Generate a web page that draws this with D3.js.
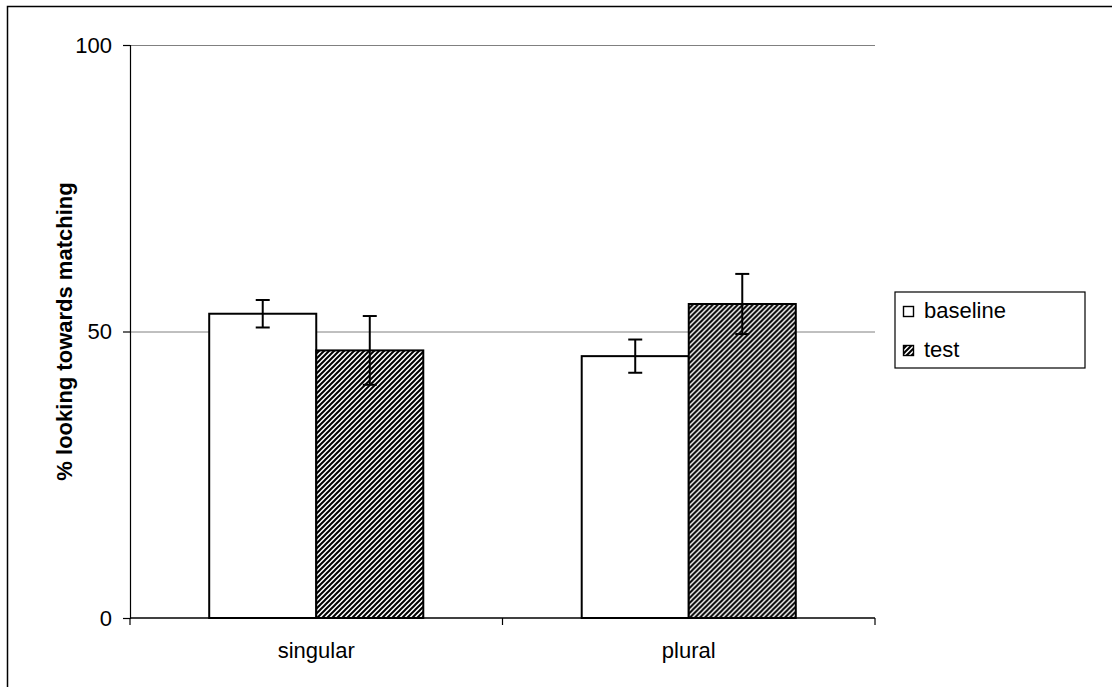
<!DOCTYPE html>
<html>
<head>
<meta charset="utf-8">
<script src="https://cdn.jsdelivr.net/npm/d3@7"></script>
<style>
  body { margin: 0; background: #fff; }
  svg { display: block; }
</style>
</head>
<body>
<div id="canvas"></div>
<script>
/* global d3 */

const categories = ['singular', 'plural']
const seriesNames = ['baseline', 'test']
const baselineValues = [53.1, 45.7]
const baselineErrors = [2.4, 2.9]
const testValues = [46.7, 54.8]
const testErrors = [6.0, 5.25]
const yTicks = [0, 50, 100]

var width = 1112, height = 687
var plot = {left: 130, right: 875, top: 45, bottom: 618}
var FONT = 'Liberation Sans, Arial, sans-serif'

var svg = d3.select('#canvas')
  .append('svg')
  .attr('width', width)
  .attr('height', height)
  .style('font-family', FONT)

// hatch for the test series
var defs = svg.append('defs')
var pat = defs.append('pattern')
  .attr('id', 'hatch')
  .attr('patternUnits', 'userSpaceOnUse')
  .attr('width', 5)
  .attr('height', 5)
pat.append('rect').attr('width', 5).attr('height', 5).attr('fill', '#fff')
pat.append('path')
  .attr('d', 'M-1,1 l2,-2 M0,5 l5,-5 M4,6 l2,-2')
  .attr('stroke', '#000')
  .attr('stroke-width', 2)

// outer frame (only top and left edges are in the picture)
svg.append('rect')
  .attr('x', 7.5).attr('y', 6.5)
  .attr('width', 1200).attr('height', 800)
  .attr('fill', 'none')
  .attr('stroke', '#000')
  .attr('stroke-width', 1.5)

const data = categories.map((c, i) => ({
  cat: c,
  bars: [
    {name: 'baseline', value: baselineValues[i], err: baselineErrors[i]},
    {name: 'test', value: testValues[i], err: testErrors[i]}
  ]
}))

const x0 = d3.scaleBand()
  .domain(categories)
  .range([plot.left, plot.right])

const x1 = d3.scaleBand()
  .domain(seriesNames)
  .range([0, x0.bandwidth()])
  .paddingOuter(0.74)

const y = d3.scaleLinear()
  .domain([0, 100])
  .range([plot.bottom, plot.top])

// gridlines
svg.append('g')
  .selectAll('line')
  .data(yTicks.filter(t => t > 0))
  .enter()
  .append('line')
  .attr('x1', plot.left).attr('x2', plot.right)
  .attr('y1', d => y(d) + 0.5).attr('y2', d => y(d) + 0.5)
  .attr('stroke', '#808080')
  .attr('stroke-width', 1)

// bars
const groups = svg.selectAll('.grp')
  .data(data)
  .enter()
  .append('g')
  .attr('transform', d => `translate(${x0(d.cat)},0)`)

groups.selectAll('rect')
  .data(d => d.bars)
  .enter()
  .append('rect')
  .attr('x', d => x1(d.name))
  .attr('y', d => y(d.value))
  .attr('width', x1.bandwidth())
  .attr('height', d => y(0) - y(d.value))
  .attr('fill', d => d.name === 'test' ? 'url(#hatch)' : '#fff')
  .attr('stroke', '#000')
  .attr('stroke-width', 2)

// error bars
const eb = groups.selectAll('.err')
  .data(d => d.bars)
  .enter()
  .append('g')
  .attr('stroke', '#000')
  .attr('stroke-width', 2)
eb.append('line')
  .attr('x1', d => x1(d.name) + x1.bandwidth() / 2)
  .attr('x2', d => x1(d.name) + x1.bandwidth() / 2)
  .attr('y1', d => y(d.value + d.err))
  .attr('y2', d => y(d.value - d.err))
eb.selectAll('.cap')
  .data(d => [d.value + d.err, d.value - d.err].map(v => ({v: v, name: d.name})))
  .enter()
  .append('line')
  .attr('x1', d => x1(d.name) + x1.bandwidth() / 2 - 7)
  .attr('x2', d => x1(d.name) + x1.bandwidth() / 2 + 7)
  .attr('y1', d => y(d.v))
  .attr('y2', d => y(d.v))

// axes
const yAxis = svg.append('g')
  .attr('transform', `translate(${plot.left},0)`)
  .call(d3.axisLeft(y).tickValues(yTicks).tickSize(7).tickPadding(11))
yAxis.select('.domain').attr('stroke', '#000').attr('stroke-width', 1.2)
yAxis.selectAll('.tick line').attr('stroke', '#000').attr('stroke-width', 1.2)
yAxis.selectAll('text').attr('font-size', '22px').attr('fill', '#000')
  .attr('font-family', FONT)

const xAxis = svg.append('g')
  .attr('transform', `translate(0,${plot.bottom})`)
xAxis.append('line')
  .attr('x1', plot.left).attr('x2', plot.right)
  .attr('stroke', '#000').attr('stroke-width', 1.5)
xAxis.selectAll('.xt')
  .data([plot.left, ...categories.map(c => x0(c) + x0.bandwidth())])
  .enter()
  .append('line')
  .attr('x1', d => d).attr('x2', d => d)
  .attr('y1', 0).attr('y2', 7)
  .attr('stroke', '#000').attr('stroke-width', 1.2)
xAxis.selectAll('text')
  .data(categories)
  .enter()
  .append('text')
  .attr('x', d => x0(d) + x0.bandwidth() / 2)
  .attr('y', 40)
  .attr('text-anchor', 'middle')
  .attr('font-size', '22px')
  .text(d => d)

// y label
svg.append('text')
  .attr('transform', `translate(72,${(plot.top + plot.bottom) / 2}) rotate(-90)`)
  .attr('text-anchor', 'middle')
  .attr('font-size', '22px')
  .attr('font-weight', 'bold')
  .text('% looking towards matching')

// legend
const lg = svg.append('g').attr('transform', 'translate(895,292)')
lg.append('rect')
  .attr('width', 190).attr('height', 76)
  .attr('fill', '#fff').attr('stroke', '#000').attr('stroke-width', 1.2)
const li = lg.selectAll('.li')
  .data(seriesNames)
  .enter()
  .append('g')
  .attr('transform', (d, i) => `translate(0,${26 + i * 39})`)
li.append('rect')
  .attr('x', 8.5).attr('y', -11.5)
  .attr('width', 10).attr('height', 10)
  .attr('fill', d => d === 'test' ? 'url(#hatch)' : '#fff')
  .attr('stroke', '#000').attr('stroke-width', 1.4)
li.append('text')
  .attr('x', 29).attr('y', 0)
  .attr('font-size', '22px')
  .text(d => d)
</script>
</body>
</html>
